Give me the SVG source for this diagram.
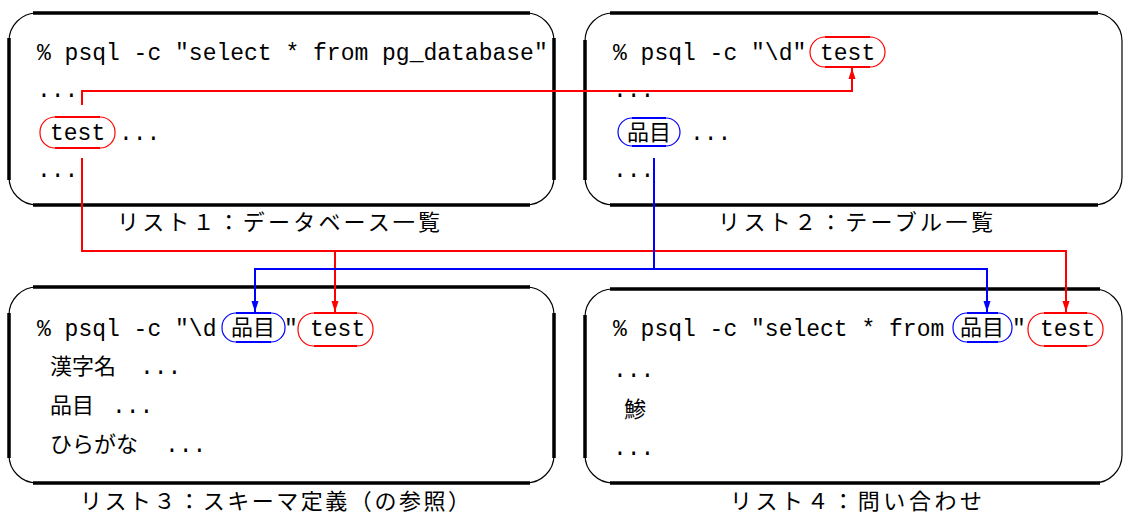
<svg xmlns="http://www.w3.org/2000/svg" width="1123" height="515" viewBox="0 0 1123 515">
<style>
.frame{fill:none;stroke:#000;stroke-width:1.2}
.thick{stroke:#000;stroke-width:3.5;fill:none}
.tt{font-family:"Liberation Mono","DejaVu Sans Mono",monospace;font-size:23px;fill:#000}
.jp{font-family:"Noto Sans CJK JP","Noto Sans CJK SC",sans-serif;font-size:22px;fill:#000}
.cap{font-family:"Noto Sans CJK JP","Noto Sans CJK SC",sans-serif;font-size:22px;fill:#000}
.pr{fill:none;stroke:#f00;stroke-width:1.2}
.pb{fill:none;stroke:#00f;stroke-width:1.2}
.prt{fill:none;stroke:#f00;stroke-width:2.2}
.pbt{fill:none;stroke:#00f;stroke-width:2.2}
.cr{fill:none;stroke:#f00;stroke-width:2}
.cb{fill:none;stroke:#00f;stroke-width:2}
</style>
<defs>
<marker id="ar" markerUnits="userSpaceOnUse" markerWidth="12" markerHeight="12" viewBox="0 0 12 12" refX="11" refY="6" orient="auto"><path d="M0,2.5 L11,6 L0,9.5 Z" fill="#f00"/></marker>
<marker id="ab" markerUnits="userSpaceOnUse" markerWidth="12" markerHeight="12" viewBox="0 0 12 12" refX="11" refY="6" orient="auto"><path d="M0,2.5 L11,6 L0,9.5 Z" fill="#00f"/></marker>
</defs>

<g id="list1">
<rect class="frame" x="9" y="13" width="545" height="192" rx="28"/>
<path class="thick" d="M33,13 H530 M33,205 H530 M9,38 V180 M554,38 V180"/>
<text class="tt" x="37" y="60" xml:space="preserve">% psql -c "select * from pg_database"</text>
<text class="tt" x="37" y="97">...</text>
<rect class="pr" x="40" y="117" width="75" height="31" rx="15"/>
<path class="prt" d="M55,117 H100 M55,148 H100"/>
<text class="tt" x="50" y="140">test</text>
<text class="tt" x="119" y="140">...</text>
<text class="tt" x="37" y="177">...</text>
<text class="cap" x="117" y="230" textLength="323">リスト１：データベース一覧</text>
</g>

<g id="list2">
<rect class="frame" x="585" y="13" width="537" height="192" rx="28"/>
<path class="thick" d="M610,13 H1098 M610,205 H1098 M585,40 V180"/>
<text class="tt" x="613" y="60" xml:space="preserve">% psql -c "\d"</text>
<rect class="pr" x="810" y="37" width="75" height="30" rx="15"/>
<path class="prt" d="M825,37 H870 M825,67 H870"/>
<text class="tt" x="820" y="60">test</text>
<text class="tt" x="613" y="97">...</text>
<rect class="pb" x="618" y="118" width="62" height="28" rx="14"/>
<path class="pbt" d="M632,118 H666 M632,146 H666"/>
<text class="jp" x="627" y="140">品目</text>
<text class="tt" x="690" y="140">...</text>
<text class="tt" x="613" y="177">...</text>
<text class="cap" x="718" y="230" textLength="275">リスト２：テーブル一覧</text>
</g>

<g id="list3">
<rect class="frame" x="9" y="287" width="545" height="196" rx="28"/>
<path class="thick" d="M33,287 H530 M33,483 H530 M9,313 V458 M554,313 V458"/>
<text class="tt" x="37" y="336" xml:space="preserve">% psql -c "\d</text>
<rect class="pb" x="222" y="313" width="63" height="29" rx="14"/>
<path class="pbt" d="M236,313 H271 M236,342 H271"/>
<text class="jp" x="231" y="335">品目</text>
<text class="tt" x="284" y="336">"</text>
<rect class="pr" x="298" y="313" width="75" height="33" rx="16"/>
<path class="prt" d="M314,313 H357 M314,346 H357"/>
<text class="tt" x="310" y="336">test</text>
<text class="jp" x="50" y="374">漢字名</text>
<text class="tt" x="140" y="374">...</text>
<text class="jp" x="50" y="413">品目</text>
<text class="tt" x="112" y="413">...</text>
<text class="jp" x="50" y="452">ひらがな</text>
<text class="tt" x="165" y="452">...</text>
<text class="cap" x="80" y="509" textLength="390">リスト３：スキーマ定義（の参照）</text>
</g>

<g id="list4">
<rect class="frame" x="585" y="289" width="537" height="194" rx="28"/>
<path class="thick" d="M610,289 H1100 M610,483 H1100 M585,315 V458"/>
<text class="tt" x="613" y="336" xml:space="preserve">% psql -c "select * from</text>
<rect class="pb" x="953" y="313" width="59" height="29" rx="14"/>
<path class="pbt" d="M967,313 H998 M967,342 H998"/>
<text class="jp" x="960" y="335">品目</text>
<text class="tt" x="1012" y="336">"</text>
<rect class="pr" x="1028" y="313" width="75" height="33" rx="16"/>
<path class="prt" d="M1044,313 H1087 M1044,346 H1087"/>
<text class="tt" x="1040" y="336">test</text>
<text class="tt" x="613" y="377">...</text>
<text class="jp" x="624" y="417">鯵</text>
<text class="tt" x="613" y="455">...</text>
<text class="cap" x="730" y="509" textLength="252">リスト４：問い合わせ</text>
</g>

<g id="connectors">
<path class="cr" d="M82,105 V91 H852 V68" marker-end="url(#ar)"/>
<path class="cr" d="M82,158 V251 H1066 V312" marker-end="url(#ar)"/>
<path class="cr" d="M335,251 V312" marker-end="url(#ar)"/>
<path class="cb" d="M654,158 V269 H987 V312" marker-end="url(#ab)"/>
<path class="cb" d="M654,269 H255 V312" marker-end="url(#ab)"/>
</g>
</svg>
